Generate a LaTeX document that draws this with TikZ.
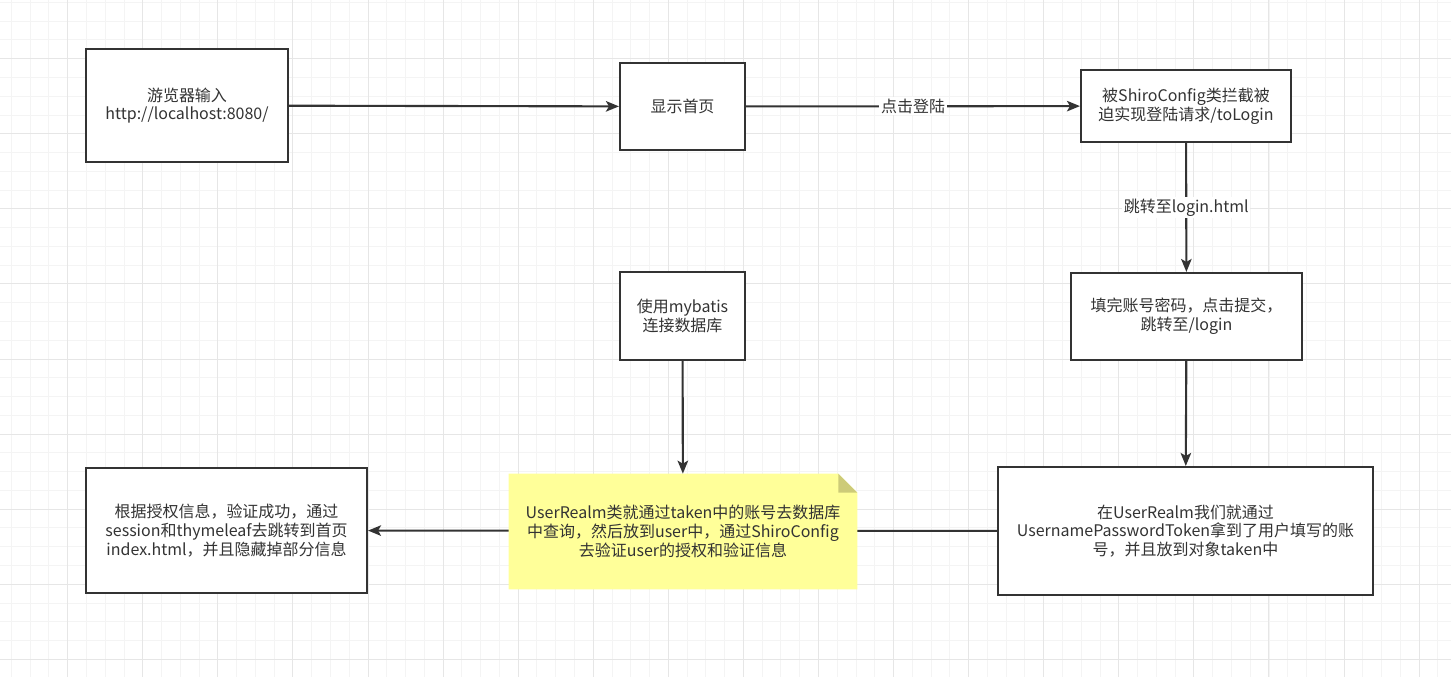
\documentclass[tikz,border=0pt]{standalone}
\usepackage{fontspec}
\setmainfont{Noto Sans CJK SC}
\usepackage{xcolor}
\usetikzlibrary{positioning, arrows.meta, calc, backgrounds}
\definecolor{inkgray}{HTML}{333333}
\definecolor{minorgrid}{HTML}{F4F4F4}
\definecolor{majorgrid}{HTML}{E6E6E6}
\definecolor{notefill}{HTML}{FFFF99}
\definecolor{foldfill}{HTML}{CDCB78}
\tikzset{
  flowbox/.style={draw=inkgray, line width=1.2pt, fill=white, align=center, text=inkgray,
    font=\fontsize{9.1pt}{10.6pt}\selectfont},
  notebox/.style={align=center, text=inkgray, font=\fontsize{9.1pt}{10.6pt}\selectfont},
  flow/.style={draw=inkgray, line width=1.2pt, -{Stealth[length=2.6mm, width=2.1mm, inset=0.6mm]}},
  edgelabel/.style={fill=white, inner sep=1pt, text=inkgray, font=\fontsize{9.1pt}{10.6pt}\selectfont}
}
\begin{document}
\begin{tikzpicture}[x=0.02cm, y=-0.02cm]
            \useasboundingbox (0,0) rectangle (1451,677);

            % Boxes of the first row
            \node[flowbox, minimum width=4.04cm, minimum height=2.26cm] (browser) at (187,105.5) {游览器输入\\http://localhost:8080/};
            \node[flowbox, minimum width=2.5cm, minimum height=1.74cm] (home) at (682.5,106.5) {显示首页};
            \node[flowbox, minimum width=4.2cm, minimum height=1.44cm] (shiro) at (1186,106) {被ShiroConfig类拦截被\\迫实现登陆请求/toLogin};

            % Boxes of the middle row
            \node[flowbox, minimum width=2.5cm, minimum height=1.76cm] (mybatis) at (682.5,316) {使用mybatis\\连接数据库};
            \node[flowbox, minimum width=4.62cm, minimum height=1.74cm] (submit) at (1186.5,316.5) {填完账号密码，点击提交，\\跳转至/login};

            % Boxes of the last row
            \node[flowbox, minimum width=7.5cm, minimum height=2.56cm] (realm) at (1185.5,531) {在UserRealm我们就通过\\UsernamePasswordToken拿到了用户填写的账\\号，并且放到对象taken中};
            \node[notebox, minimum width=6.96cm, minimum height=2.3cm] (query) at (683,531.5) {UserRealm类就通过taken中的账号去数据库\\中查询，然后放到user中，通过ShiroConfig\\去验证user的授权和验证信息};
            \node[flowbox, minimum width=5.62cm, minimum height=2.5cm] (result) at (226.5,530.5) {根据授权信息，验证成功，通过\\session和thymeleaf去跳转到首页\\index.html，并且隐藏掉部分信息};

            % Grid, the line behind the note, and the note itself
            \begin{scope}[on background layer]
                \foreach \i in {0,...,77}
                    \draw[minorgrid, line width=0.02cm] ({11.4+18.77*\i},0) -- ++(0,677);
                \foreach \j in {0,...,36}
                    \draw[minorgrid, line width=0.02cm] (0,{2.4+18.77*\j}) -- ++(1451,0);
                \foreach \i in {0,...,19}
                    \draw[majorgrid, line width=0.02cm] ({-7.4+75.08*\i},0) -- ++(0,677);
                \foreach \j in {0,...,9}
                    \draw[majorgrid, line width=0.02cm] (0,{-16.4+75.08*\j}) -- ++(1451,0);
                \draw[flow] (realm) -- (result);
                \fill[notefill] (query.south west) |- ([xshift=-0.38cm]query.north east)
                    -- ([yshift=-0.38cm]query.north east) -- (query.south east) -- cycle;
                \fill[foldfill] ([xshift=-0.38cm]query.north east) -- ([xshift=-0.38cm, yshift=-0.38cm]query.north east)
                    -- ([yshift=-0.38cm]query.north east) -- cycle;
            \end{scope}

            % Connectors
            \draw[flow] (browser) -- (home);
            \draw[flow] (home) -- node[edgelabel] {点击登陆} (shiro);
            \draw[flow] (shiro) -- node[edgelabel] {跳转至login.html} (submit);
            \draw[flow] (submit) -- (realm);
            \draw[flow] (mybatis) -- (query);
        \end{tikzpicture}
\end{document}
